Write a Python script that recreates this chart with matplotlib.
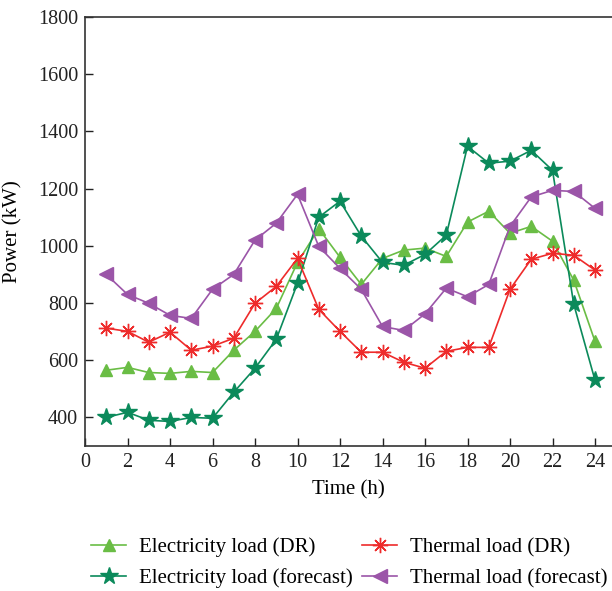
import numpy as np
import matplotlib.pyplot as plt

plt.rcParams['font.family'] = ['Liberation Serif', 'DejaVu Serif']

hours = list(range(1, 25))
elec_dr = [565, 575, 557, 554, 561, 557, 635, 701, 781, 942, 1060, 960,
           865, 956, 985, 992, 963, 1083, 1121, 1044, 1068, 1016, 880, 666]
elec_fc = [400, 418, 390, 386, 400, 397, 488, 572, 673, 869, 1100, 1156,
           1034, 942, 932, 970, 1037, 1348, 1289, 1296, 1334, 1264, 796, 530]
therm_dr = [712, 701, 663, 698, 635, 649, 677, 799, 858, 956, 778, 701,
            628, 628, 593, 572, 631, 645, 645, 848, 953, 974, 967, 915]
therm_fc = [900, 830, 799, 757, 746, 848, 900, 1020, 1079, 1180, 998, 921,
            848, 718, 704, 762, 852, 822, 865, 1068, 1171, 1194, 1190, 1131]

fig = plt.figure(figsize=(6.12, 5.91), dpi=100)
ax = fig.add_axes([0.1389, 0.2453, 0.8611, 0.7259])

l1, = ax.plot(hours, elec_dr, color='#6abd45', marker='^', markersize=9, linewidth=1.2,
              label='Electricity load (DR)')
l2, = ax.plot(hours, elec_fc, color='#0b8a5b', marker='*', markersize=13, linewidth=1.2,
              label='Electricity load (forecast)')
l3, = ax.plot(hours, therm_dr, color='#ee2b2b', marker=(8, 2, 0), markersize=11, linewidth=1.2,
              markeredgewidth=1.0, label='Thermal load (DR)')
l4, = ax.plot(hours, therm_fc, color='#9b55a8', marker='<', markersize=10, linewidth=1.2,
              label='Thermal load (forecast)')

ax.set_xlim(0, 24.8)
ax.set_ylim(300, 1800)
ax.set_xticks(range(0, 25, 2))
ax.set_yticks(range(400, 1801, 200))
ax.tick_params(direction='in', labelsize=14.5, length=6, width=1, colors='#222222', pad=5)
ax.spines['right'].set_visible(False)
for s in ['left', 'bottom', 'top']:
    ax.spines[s].set_linewidth(1.2)
    ax.spines[s].set_color('#333333')

ax.set_xlabel('Time (h)', fontsize=15, labelpad=6)
ax.set_ylabel('Power (kW)', fontsize=15)
ax.yaxis.set_label_coords(-0.118, 0.5)

fig.legend(handles=[l1, l2, l3, l4], loc='upper left', bbox_to_anchor=(0.135, 0.105),
           ncol=2, frameon=False, fontsize=15, handlelength=1.7, columnspacing=0.45,
           labelspacing=0.55, borderaxespad=0, handletextpad=0.6)

plt.savefig('out.png')
